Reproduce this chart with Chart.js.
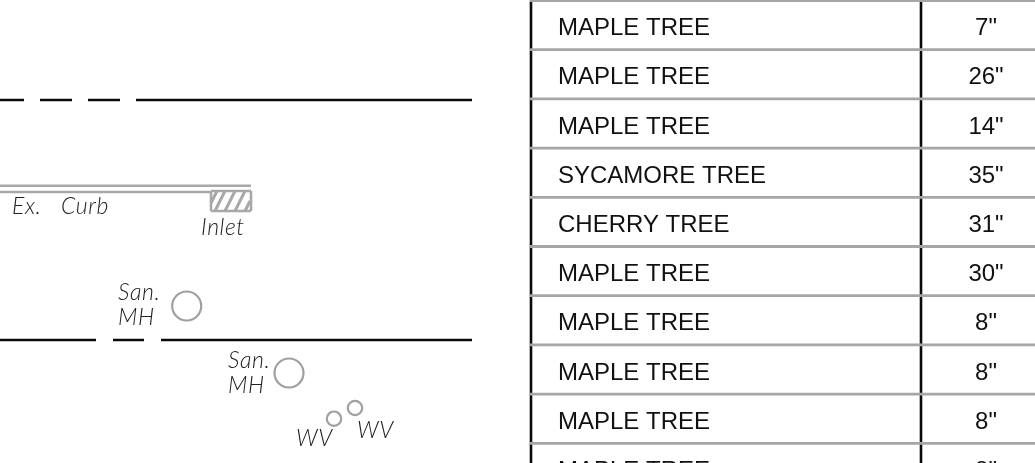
<!DOCTYPE html>
<html>
<head>
<meta charset="utf-8">
<style>
  html, body { margin: 0; padding: 0; background: #fff; overflow: hidden; }
  canvas { display: block; filter: blur(0.35px); }
</style>
<script src="https://cdn.jsdelivr.net/npm/chart.js@4/dist/chart.umd.min.js"></script>
</head>
<body>
<canvas id="sheet" width="1035" height="463"></canvas>
<script>
// Tree schedule
const treeNames = ['MAPLE TREE', 'MAPLE TREE', 'MAPLE TREE', 'SYCAMORE TREE', 'CHERRY TREE',
  'MAPLE TREE', 'MAPLE TREE', 'MAPLE TREE', 'MAPLE TREE', 'MAPLE TREE'];
const treeSizes = [7, 26, 14, 35, 31, 30, 8, 8, 8, 8];

// Site plan features, [x1, y1, x2, y2] in sheet units
const streetEdges = [
  [0, 100, 24, 100], [40, 100, 72, 100], [88, 100, 120, 100], [136, 100, 472, 100],
  [0, 340, 96, 340], [113, 340, 144, 340], [161, 340, 472, 340]
];
const curbLines = [[0, 185.7, 251, 185.7], [0, 192, 211, 192]];
const inletOutline = [
  [211, 191, 251, 191], [251, 191, 251, 211], [251, 211, 211, 211], [211, 211, 211, 191]
];
const inletHatch = [
  [211, 203, 217, 191], [215, 211, 225, 191], [225, 211, 235, 191],
  [235, 211, 245, 191], [245, 211, 250, 201]
];
const manholes = [[186.7, 306], [289, 373]];
const waterValves = [[334, 418.7], [355, 408]];
const planLabels = ['Ex.', 'Curb', 'Inlet', 'San.', 'MH', 'San.', 'MH', 'WV', 'WV'];
const planLabelX = [12, 61, 201, 118, 118, 228, 228, 296, 357];
const planLabelY = [214, 214, 235, 300, 325, 368, 393, 446, 438];

const ROW_HEIGHT = 49.2;
const FIRST_LINE = 0.5;

function segments(list) {
  const pts = [];
  list.forEach(s => {
    pts.push({ x: s[0], y: s[1] }, { x: s[2], y: s[3] }, { x: null, y: null });
  });
  return pts;
}

function lineSet(list, color, width, order, axis) {
  return {
    data: segments(list),
    showLine: true,
    spanGaps: false,
    pointRadius: 0,
    borderColor: color,
    borderWidth: width,
    order: order,
    yAxisID: axis || 'y'
  };
}

function circleSet(list, radius) {
  return {
    data: list.map(c => ({ x: c[0], y: c[1] })),
    showLine: false,
    pointRadius: radius,
    pointBorderWidth: 2.2,
    pointBorderColor: '#a0a0a0',
    pointBackgroundColor: 'transparent'
  };
}

// Table rules are placed by row number on their own axis
const rowRules = [];
for (let k = 0; k <= treeNames.length; k++) rowRules.push([530, k, 1035, k]);
const columnRules = [[531, 0, 531, 10], [921, 0, 921, 10]];

// Text is real text, positioned through the chart scales
const sheetText = {
  id: 'sheetText',
  afterDatasetsDraw(chart) {
    const { ctx, scales } = chart;
    ctx.save();
    ctx.textBaseline = 'alphabetic';
    ctx.fillStyle = '#222';
    ctx.font = 'italic 300 23px Lato, "Open Sans", sans-serif';
    ctx.letterSpacing = '0.6px';
    ctx.textAlign = 'left';
    planLabels.forEach((txt, i) => {
      ctx.fillText(txt, scales.x.getPixelForValue(planLabelX[i]), scales.y.getPixelForValue(planLabelY[i]));
    });
    ctx.letterSpacing = '0px';
    ctx.textBaseline = 'middle';
    ctx.fillStyle = '#111';
    ctx.font = '24px "Liberation Sans", Arial, sans-serif';
    treeNames.forEach((name, i) => {
      const y = scales.yRows.getPixelForValue(i + 0.5) + 3.4;
      ctx.textAlign = 'left';
      ctx.fillText(name, scales.x.getPixelForValue(558), y);
      ctx.textAlign = 'center';
      ctx.fillText(treeSizes[i] + '"', scales.x.getPixelForValue(986), y);
    });
    ctx.restore();
  }
};

new Chart(document.getElementById('sheet'), {
  type: 'scatter',
  data: {
    datasets: [
      lineSet(streetEdges, '#0a0a0a', 2.4, 1),
      lineSet(curbLines, '#a8a8a8', 2.4, 2),
      lineSet(inletOutline, '#a8a8a8', 2.6, 2),
      lineSet(inletHatch, '#a8a8a8', 3, 3),
      circleSet(manholes, 14.5),
      circleSet(waterValves, 7.2),
      lineSet(rowRules, '#a6a6a6', 2.8, 1, 'yRows'),
      lineSet(columnRules, '#0a0a0a', 2.6, 2, 'yRows')
    ]
  },
  plugins: [sheetText],
  options: {
    responsive: false,
    animation: false,
    events: [],
    layout: { padding: 0, autoPadding: false },
    plugins: { legend: { display: false }, tooltip: { enabled: false } },
    scales: {
      x: { type: 'linear', display: false, min: 0, max: 1035 },
      y: { type: 'linear', display: false, reverse: true, min: 0, max: 463 },
      yRows: {
        type: 'linear',
        display: false,
        reverse: true,
        min: -FIRST_LINE / ROW_HEIGHT,
        max: (463 - FIRST_LINE) / ROW_HEIGHT
      }
    }
  }
});
</script>
</body>
</html>
